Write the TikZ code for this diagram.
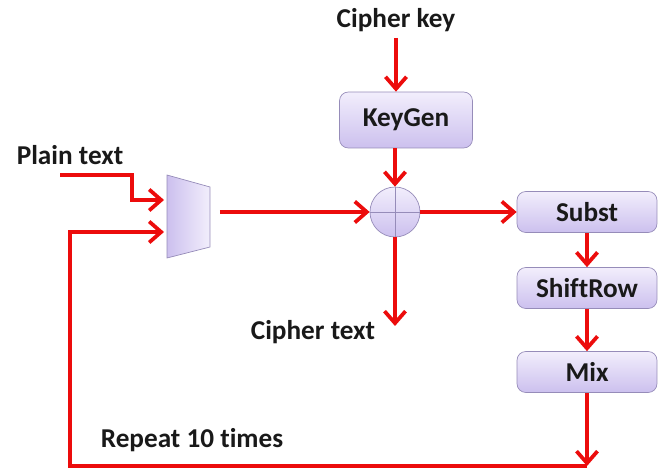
\documentclass[tikz,border=0pt]{standalone}
\usepackage{fontspec}
\setmainfont{Carlito}[Ligatures=NoCommon]
\usetikzlibrary{arrows.meta}

\definecolor{flowred}{RGB}{236,12,12}
\definecolor{boxtop}{RGB}{242,238,252}
\definecolor{boxbottom}{RGB}{204,192,238}
\definecolor{boxline}{RGB}{150,140,185}

\begin{document}
\begin{tikzpicture}[x=0.02cm, y=-0.02cm,
    flow/.style={flowred, line width=0.075cm, -{Straight Barb[length=0.24cm, width=0.42cm]}},
    stage/.style={draw=boxline, rounded corners=5pt, top color=boxtop, bottom color=boxbottom,
        minimum width=2.8cm, minimum height=0.82cm, text=black!90,
        font=\bfseries\fontsize{15.5}{18}\selectfont},
    tag/.style={text=black!90, font=\bfseries\fontsize{15.5}{18}\selectfont}]
    \useasboundingbox (0,0) rectangle (667,473);

    % Key schedule
    \node[tag] (key) at (396,20) {Cipher key};
    \node[stage, minimum width=2.66cm, minimum height=1.12cm] (keygen) at (406,120) {KeyGen};

    % XOR
    \node[circle, draw=boxline, top color=boxtop, bottom color=boxbottom,
        minimum size=1cm, inner sep=0pt] (xor) at (395,212) {};
    \draw[boxline] (xor.north) -- (xor.south) (xor.west) -- (xor.east);

    % Round steps
    \node[stage] (subst) at (587,212) {Subst};
    \node[stage] (shift) at (587,288) {ShiftRow};
    \node[stage] (mix) at (587,372) {Mix};

    % Texts
    \node[tag] (plain) at (70,155) {Plain text};
    \node[tag] (ctext) at (313,332) {Cipher text};
    \node[tag] (repeat) at (192,440) {Repeat 10 times};

    % Multiplexer
    \shade[draw=boxline, left color=boxbottom, right color=boxtop]
        (167,175) -- (210,187) -- (210,247) -- (167,258) -- cycle;
    \coordinate (muxin1) at (164,200);
    \coordinate (muxin2) at (164,232);
    \coordinate (muxout) at (210,212);

    \coordinate (ptin) at (60,175);
    \coordinate (ptbend) at (132,190);
    \coordinate (ctout) at (395,326);
    \coordinate (loopend) at (587,466);
    \coordinate (back) at (70,466);

    % Arrows
    \draw[flow] (key.south) -- (key.south |- keygen.north);
    \draw[flow] (xor |- keygen.south) -- (xor.north);
    \draw[flow] (xor.south) -- (ctout);
    \draw[flow] (xor.east) -- (subst.west);
    \draw[flow] (subst.south) -- (shift.north);
    \draw[flow] (shift.south) -- (mix.north);
    \draw[flow] (mix.south) -- (loopend);
    \draw[flow] (ptin) -| (ptbend) |- (muxin1);
    \draw[flow, shorten <=0.2cm] (muxout) -- (xor.west);
    \draw[flow] (loopend) -- (back) |- (muxin2);
\end{tikzpicture}
\end{document}
